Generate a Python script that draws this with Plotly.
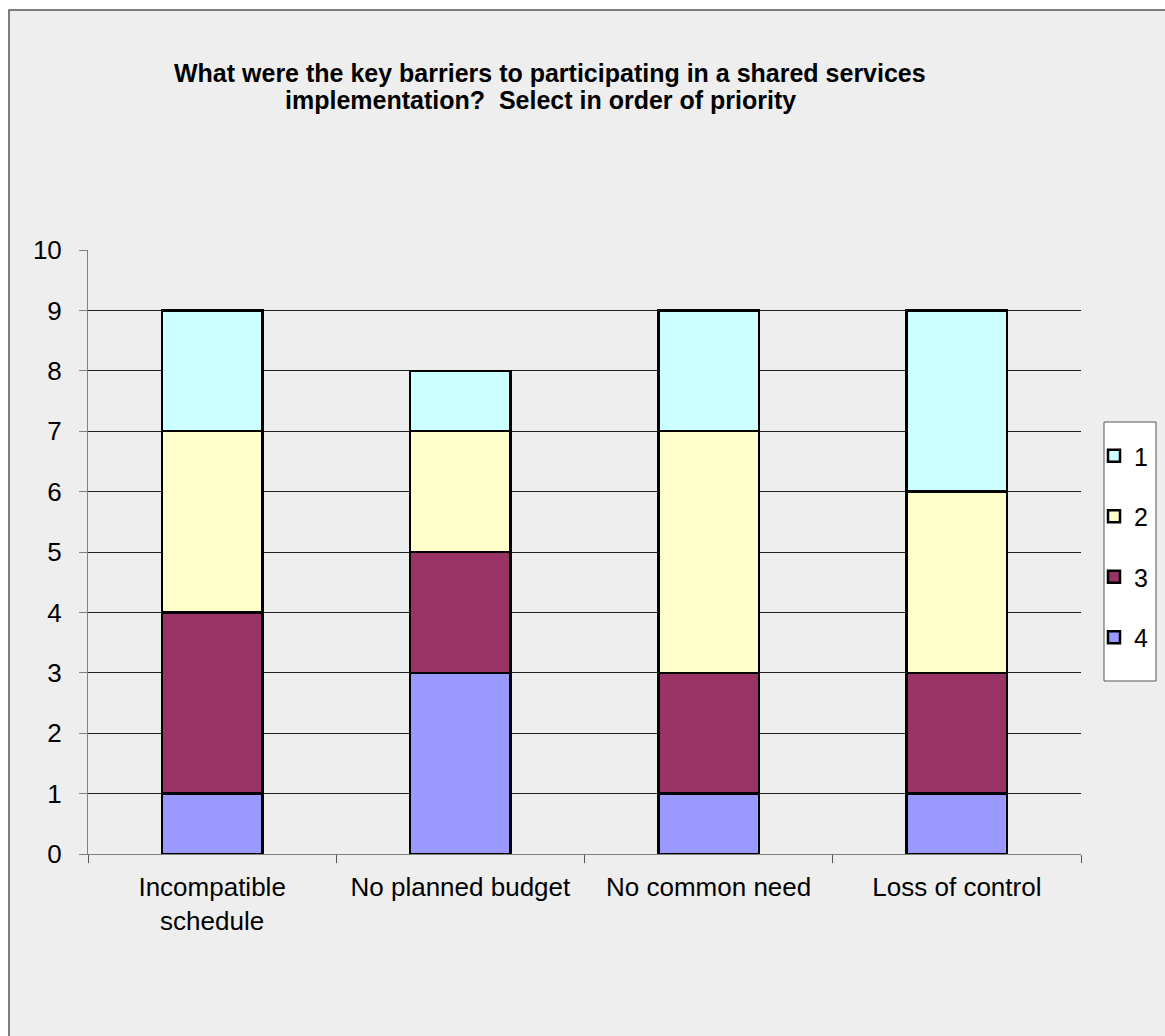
import plotly.graph_objects as go

# Survey responses by barrier, split by the priority rank given
categories = ["Incompatible<br>schedule", "No planned budget", "No common need", "Loss of control"]
rank_4 = [1, 3, 1, 1]
rank_3 = [3, 2, 2, 2]
rank_2 = [3, 2, 4, 3]
rank_1 = [2, 1, 2, 3]
y_ticks = list(range(0, 11))
title_lines = [
    "What were the key barriers to participating in a shared services",
    "implementation?  Select in order of priority",
]

# (legend label, values, fill colour, legend position)
series = [
    ("4", rank_4, "#9999FF", 4),
    ("3", rank_3, "#993366", 3),
    ("2", rank_2, "#FFFFCC", 2),
    ("1", rank_1, "#CCFFFF", 1),
]

W, H = 1165, 1036
ML, MR, MT, MB = 88, 84, 250, 182
PW, PH = W - ML - MR, H - MT - MB

fig = go.Figure()
for name, vals, color, rank in series:
    fig.add_trace(go.Bar(
        x=categories, y=vals, name=name, legendgroup=name, legendrank=rank,
        marker=dict(color=color, line=dict(color="black", width=2.5)),
    ))

def px_x(p):
    return (p - ML) / PW

def px_y(p):
    return (H - MB - p) / PH

# outer chart frame
fig.add_shape(type="rect", xref="paper", yref="paper",
              x0=px_x(9), x1=px_x(1200), y0=px_y(10), y1=px_y(1100),
              line=dict(color="#555555", width=1.5), fillcolor="#EEEEEE", layer="below")
# legend box
fig.add_shape(type="rect", xref="paper", yref="paper",
              x0=px_x(1104), x1=px_x(1156), y0=px_y(422), y1=px_y(681),
              line=dict(color="#555555", width=1), fillcolor="white", layer="below")

# two-line chart title
for line, cx, cy in zip(title_lines, [550, 540], [73, 100]):
    fig.add_annotation(
        text=f"<b>{line}</b>", xref="paper", yref="paper",
        x=px_x(cx), y=px_y(cy), xanchor="center", yanchor="middle",
        showarrow=False, font=dict(family="Liberation Sans, Arial", size=25, color="black"),
    )

fig.update_layout(
    width=W, height=H,
    margin=dict(l=ML, r=MR, t=MT, b=MB, autoexpand=False),
    paper_bgcolor="white", plot_bgcolor="rgba(0,0,0,0)",
    barmode="stack", bargap=0.595,
    font=dict(family="Liberation Sans, Arial", size=26, color="black"),
    showlegend=True,
    legend=dict(
        x=px_x(1094), y=px_y(433), xanchor="left", yanchor="top",
        bgcolor="rgba(0,0,0,0)", borderwidth=0,
        traceorder="grouped", tracegroupgap=25,
        font=dict(size=25), itemwidth=30,
    ),
)
fig.update_yaxes(
    range=[0, 10], tickvals=y_ticks, showgrid=True, gridcolor="#222222", gridwidth=1,
    zeroline=False, showline=True, linecolor="#808080", linewidth=1,
    ticks="outside", ticklen=8, tickcolor="#808080", ticklabelstandoff=12,
    tickfont=dict(size=26),
)
fig.update_xaxes(
    tickson="boundaries", ticks="outside", ticklen=8, tickcolor="#555555",
    showline=True, linecolor="#808080", linewidth=1, showgrid=False,
    ticklabelstandoff=10, tickfont=dict(size=26),
)

fig.write_html("out.html")
